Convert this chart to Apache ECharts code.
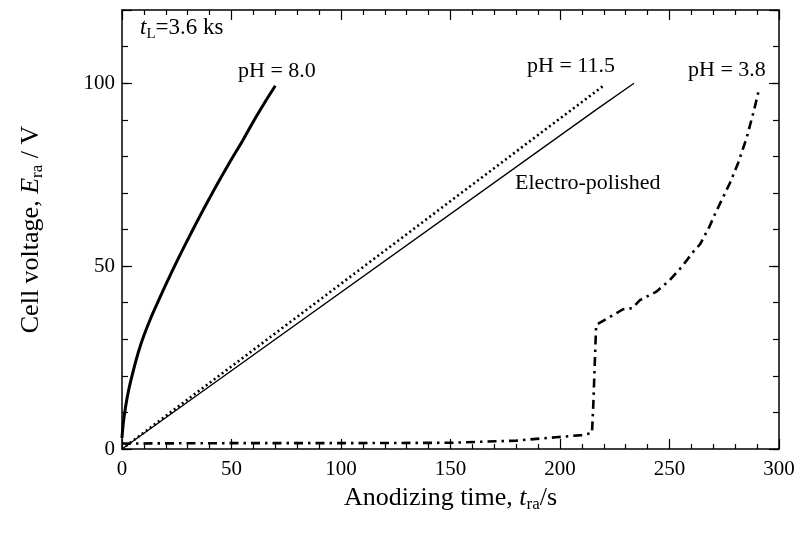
<!DOCTYPE html>
<html>
<head>
<meta charset="utf-8">
<script src="https://cdn.jsdelivr.net/npm/echarts@6/dist/echarts.min.js"></script>
<style>
  html, body { margin: 0; padding: 0; background: #fff; }
  #chart { width: 800px; height: 541px; }
</style>
</head>
<body>
<div id="chart"></div>
<script>
// values: [time (s), voltage (V)]
var ph80 = [[0, 3], [0.5, 6.5], [1.5, 11], [3, 16], [5, 21], [7.5, 26.5], [10, 31], [13.5, 36.3],
            [17.4, 41.5], [21, 46.2], [25, 51.2], [30, 57.2], [35, 63], [40, 68.6], [45, 74],
            [50, 79.2], [55, 84.2], [62, 91.6], [70, 99.3]];
var ph115 = [[0, 0], [220.5, 99.6]];
var electroPolished = [[0, 0], [216.9, 92.9], [233.8, 100]];
var ph38 = [[0, 1.5], [50, 1.6], [100, 1.6], [150, 1.7], [180, 2.3], [198, 3.2], [210, 3.8],
            [214.6, 4.4], [215.2, 12], [216.5, 33.9], [222, 35.8], [228.8, 38.2], [233, 38.5],
            [236.5, 40.7], [244, 43], [250.2, 46.2], [255.6, 49.8], [260.7, 53.8], [264, 56],
            [268, 60.5], [271, 64.5], [273.8, 68], [277.6, 72.7], [281.3, 78.1], [285.2, 85],
            [288.6, 92.6], [291, 98.6]];
var xTicks = [0, 50, 100, 150, 200, 250, 300];
var yTicks = [0, 50, 100];

var serif = 'Liberation Serif';
var black = '#000';

function xAxisDef(pos, showLabel) {
    return {
        type: 'value', position: pos, min: 0, max: 300, interval: 50,
        axisLine: { show: true, onZero: false, lineStyle: { color: black, width: 1.5 } },
        axisTick: { show: true, inside: true, length: 10, lineStyle: { color: black, width: 1.2 } },
        minorTick: { show: true, splitNumber: 5, length: 5, lineStyle: { color: black, width: 1.2 } },
        splitLine: { show: false },
        axisLabel: {
            show: showLabel, margin: 10, color: black, fontFamily: serif, fontSize: 21,
            formatter: function (v) { return xTicks.indexOf(v) >= 0 ? String(v) : ''; }
        }
    };
}

function yAxisDef(pos, step, len, showLabel, showLine) {
    return {
        type: 'value', position: pos, min: 0, max: 120, interval: step,
        axisLine: { show: showLine, onZero: false, lineStyle: { color: black, width: 1.5 } },
        axisTick: { show: true, inside: true, length: len, lineStyle: { color: black, width: 1.2 } },
        splitLine: { show: false },
        axisLabel: {
            show: showLabel, margin: 7, color: black, fontFamily: serif, fontSize: 21,
            showMaxLabel: false,
            formatter: function (v) { return yTicks.indexOf(v) >= 0 ? String(v) : ''; }
        }
    };
}

var titleRich = {
    n: { fontFamily: serif, fontSize: 26, color: black, lineHeight: 30 },
    i: { fontFamily: serif, fontSize: 26, color: black, fontStyle: 'italic', lineHeight: 30 },
    s: { fontFamily: serif, fontSize: 17, color: black, verticalAlign: 'bottom', lineHeight: 17 }
};

var xAxes = [xAxisDef('bottom', true), xAxisDef('top', false)];
xAxes[0].name = '{n|Anodizing time, }{i|t}{s|ra}{n|/s}';
xAxes[0].nameLocation = 'middle';
xAxes[0].nameGap = 28;
xAxes[0].nameTextStyle = { rich: titleRich };

// minor (every 10) and major (every 50) ticks on both sides
var yAxes = [
    yAxisDef('left', 10, 6, true, true),
    yAxisDef('left', 50, 10, false, false),
    yAxisDef('right', 10, 6, false, true),
    yAxisDef('right', 50, 10, false, false)
];
yAxes[0].name = '{n|Cell voltage, }{i|E}{s|ra}{n| / V}';
yAxes[0].nameLocation = 'middle';
yAxes[0].nameRotate = 90;
yAxes[0].nameGap = 76;
yAxes[0].nameTextStyle = { rich: titleRich };

var myChart = echarts.init(document.getElementById('chart'));
var option = {
    animation: false,
    backgroundColor: '#fff',
    grid: { left: 122, right: 21, top: 10, bottom: 92, containLabel: false },
    xAxis: xAxes,
    yAxis: yAxes,
    series: [
        {
            name: 'pH = 8.0', type: 'line', data: ph80, smooth: true, symbol: 'none',
            lineStyle: { color: black, width: 3 }
        },
        {
            name: 'pH = 11.5', type: 'line', data: ph115, symbol: 'none',
            lineStyle: { color: black, width: 2.6, type: [2, 3] }
        },
        {
            name: 'Electro-polished', type: 'line', data: electroPolished, symbol: 'none',
            lineStyle: { color: black, width: 1.3 }
        },
        {
            name: 'pH = 3.8', type: 'line', data: ph38, symbol: 'none',
            lineStyle: { color: black, width: 2.6, type: [9, 5, 2.5, 5] }
        }
    ],
    graphic: [
        {
            type: 'text', left: 140, top: 16,
            style: {
                text: '{i|t}{s|L}{n|=3.6 ks}',
                rich: {
                    n: { fontFamily: serif, fontSize: 23, fill: black, lineHeight: 28 },
                    i: { fontFamily: serif, fontSize: 23, fill: black, fontStyle: 'italic', lineHeight: 28 },
                    s: { fontFamily: serif, fontSize: 15, fill: black, verticalAlign: 'bottom', lineHeight: 15 }
                }
            }
        },
        { type: 'text', left: 238, top: 60, style: { text: 'pH = 8.0', font: '22px "Liberation Serif"', fill: black } },
        { type: 'text', left: 527, top: 55, style: { text: 'pH = 11.5', font: '22px "Liberation Serif"', fill: black } },
        { type: 'text', left: 688, top: 59, style: { text: 'pH = 3.8', font: '22px "Liberation Serif"', fill: black } },
        { type: 'text', left: 515, top: 172, style: { text: 'Electro-polished', font: '22px "Liberation Serif"', fill: black } }
    ]
};
myChart.setOption(option);
</script>
</body>
</html>
